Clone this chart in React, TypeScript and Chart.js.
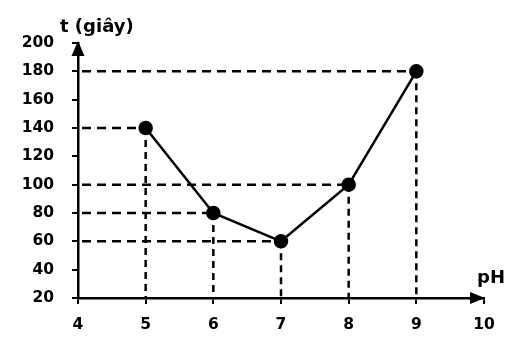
import React, { useEffect, useRef } from "react";
import { Chart, registerables } from "chart.js";

Chart.register(...registerables);

const phValues = [5, 6, 7, 8, 9];
const timeValues = [140, 80, 60, 100, 180];
const xTicks = [4, 5, 6, 7, 8, 9, 10];
const yTicks = [20, 40, 60, 80, 100, 120, 140, 160, 180, 200];
const yTitle = "t (giây)";
const xTitle = "pH";

const FONT = "'DejaVu Sans', sans-serif";

const guidePlugin = {
  id: "guides",
  beforeDatasetsDraw(chart: any) {
    const { ctx, scales } = chart;
    const xs = scales.x;
    const ys = scales.y;
    const left = chart.chartArea.left;
    const bottom = chart.chartArea.bottom;
    ctx.save();
    ctx.strokeStyle = "#000";
    ctx.lineWidth = 2.5;
    phValues.forEach((p, i) => {
      const px = xs.getPixelForValue(p);
      const py = ys.getPixelForValue(timeValues[i]);
      ctx.setLineDash([9, 6]);
      ctx.beginPath();
      ctx.moveTo(left + 4, py);
      ctx.lineTo(px, py);
      ctx.stroke();
      ctx.setLineDash([7, 5]);
      ctx.beginPath();
      ctx.moveTo(px, py);
      ctx.lineTo(px, bottom);
      ctx.stroke();
    });
    ctx.restore();
  },
  afterDraw(chart: any) {
    const { ctx, chartArea } = chart;
    const { left, top, right, bottom } = chartArea;
    ctx.save();
    ctx.fillStyle = "#000";
    // y arrow
    ctx.beginPath();
    ctx.moveTo(left, top - 2);
    ctx.lineTo(left - 6.5, top + 13);
    ctx.lineTo(left + 6.5, top + 13);
    ctx.closePath();
    ctx.fill();
    // x arrow
    ctx.beginPath();
    ctx.moveTo(right + 1, bottom);
    ctx.lineTo(right - 14, bottom - 6);
    ctx.lineTo(right - 14, bottom + 6);
    ctx.closePath();
    ctx.fill();
    ctx.font = `bold 18px ${FONT}`;
    ctx.textBaseline = "middle";
    ctx.textAlign = "left";
    ctx.fillText(yTitle, left - 18, top - 16);
    ctx.textAlign = "center";
    ctx.fillText(xTitle, right + 7, bottom - 20);
    ctx.restore();
  },
};

export default function App() {
  const ref = useRef<HTMLCanvasElement>(null);
  useEffect(() => {
    if (!ref.current) return;
    const chart = new Chart(ref.current, {
      type: "line",
      data: {
        datasets: [
          {
            data: phValues.map((p, i) => ({ x: p, y: timeValues[i] })),
            borderColor: "#000",
            backgroundColor: "#000",
            borderWidth: 2.5,
            pointRadius: 6,
            pointBackgroundColor: "#000",
            pointBorderColor: "#000",
            tension: 0,
          },
        ],
      },
      plugins: [guidePlugin],
      options: {
        animation: false,
        responsive: false,
        devicePixelRatio: 1,
        layout: { padding: { top: 43, right: 26, left: 0, bottom: 0 } },
        plugins: { legend: { display: false }, tooltip: { enabled: false } },
        scales: {
          x: {
            type: "linear",
            min: 4,
            max: 10,
            afterBuildTicks: (s: any) => {
              s.ticks = xTicks.map((v) => ({ value: v }));
            },
            afterFit: (s: any) => {
              s.height = 46;
            },
            border: { color: "#000", width: 2.5 },
            grid: { drawOnChartArea: false, drawTicks: true, tickLength: 6, color: "#000", lineWidth: 2 },
            ticks: { color: "#000", padding: 12, font: { family: FONT, size: 15.5, weight: "bold" } },
          },
          y: {
            type: "linear",
            min: 20,
            max: 200,
            afterBuildTicks: (s: any) => {
              s.ticks = yTicks.map((v) => ({ value: v }));
            },
            afterFit: (s: any) => {
              s.width = 78;
            },
            border: { color: "#000", width: 2.5 },
            grid: { drawOnChartArea: false, drawTicks: true, tickLength: 6, color: "#000", lineWidth: 2 },
            ticks: { color: "#000", padding: 18, font: { family: FONT, size: 15.5, weight: "bold" } },
          },
        },
      },
    } as any);
    return () => chart.destroy();
  }, []);
  return (
    <div style={{ position: "fixed", left: 0, top: 0, width: 510, height: 344, background: "#fff" }}>
      <canvas ref={ref} width={510} height={344} style={{ width: 510, height: 344 }} />
    </div>
  );
}
